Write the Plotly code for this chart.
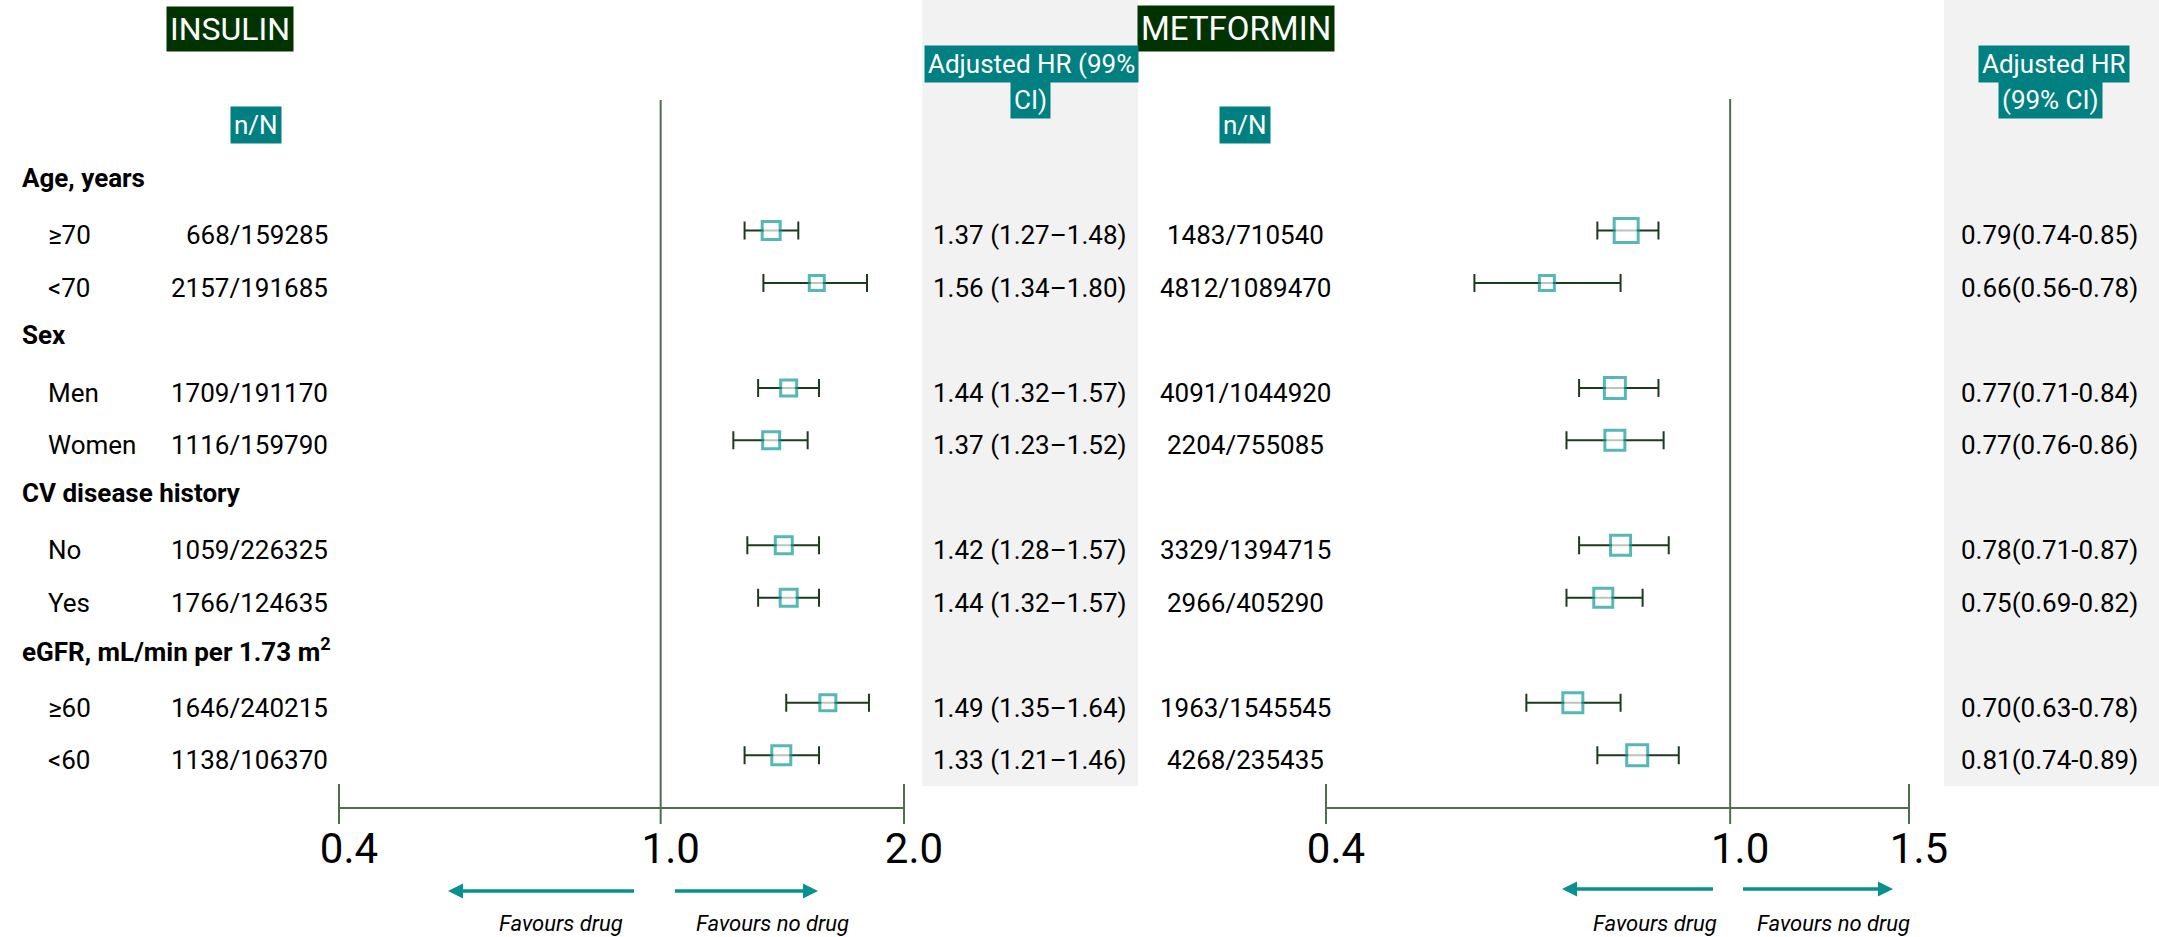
import math
import plotly.graph_objects as go

W, H = 2159, 937

# ---------------- data ----------------
row_keys = ["age", "age_ge70", "age_lt70", "sex", "sex_men", "sex_women",
            "cv", "cv_no", "cv_yes", "egfr", "egfr_ge60", "egfr_lt60"]
row_labels = ["Age, years", "≥70", "<70", "Sex", "Men", "Women",
              "CV disease history", "No", "Yes",
              "eGFR, mL/min per 1.73 m<sup>2</sup>", "≥60", "<60"]
is_header = [True, False, False, True, False, False,
             True, False, False, True, False, False]

ins_nN = ["668/159285", "2157/191685", "1709/191170", "1116/159790",
          "1059/226325", "1766/124635", "1646/240215", "1138/106370"]
ins_hr_text = ["1.37 (1.27–1.48)", "1.56 (1.34–1.80)", "1.44 (1.32–1.57)",
               "1.37 (1.23–1.52)", "1.42 (1.28–1.57)", "1.44 (1.32–1.57)",
               "1.49 (1.35–1.64)", "1.33 (1.21–1.46)"]
ins_hr = [1.37, 1.56, 1.44, 1.37, 1.42, 1.44, 1.61, 1.41]
ins_lo = [1.27, 1.34, 1.32, 1.23, 1.28, 1.32, 1.43, 1.27]
ins_hi = [1.48, 1.80, 1.57, 1.52, 1.57, 1.57, 1.81, 1.57]

met_nN = ["1483/710540", "4812/1089470", "4091/1044920", "2204/755085",
          "3329/1394715", "2966/405290", "1963/1545545", "4268/235435"]
met_hr_text = ["0.79(0.74-0.85)", "0.66(0.56-0.78)", "0.77(0.71-0.84)",
               "0.77(0.76-0.86)", "0.78(0.71-0.87)", "0.75(0.69-0.82)",
               "0.70(0.63-0.78)", "0.81(0.74-0.89)"]
met_hr = [0.79, 0.66, 0.77, 0.77, 0.78, 0.75, 0.70, 0.81]
met_lo = [0.74, 0.56, 0.71, 0.69, 0.71, 0.69, 0.63, 0.74]
met_hi = [0.85, 0.78, 0.85, 0.86, 0.87, 0.82, 0.78, 0.89]

ins_ticks = [0.4, 1.0, 2.0]
ins_ticklabels = ["0.4", "1.0", "2.0"]
met_ticks = [0.4, 1.0, 1.5]
met_ticklabels = ["0.4", "1.0", "1.5"]

# ---------------- styles ----------------
ins_size = [18, 15, 16, 17, 17, 17, 16, 19]
met_size = [24, 15, 21, 20, 20, 19, 20, 21]

FONT = "Roboto"
AX = "#4e6e4e"
ERR = "#1f3b1f"
TEAL_BOX = "#008080"
TEAL_MK = "#109a9a"
TEAL_ARROW = "#0a9090"
DARK = "#003300"
GRAY = "#f2f2f2"


def px(p):
    return p / W


def py(p):
    return 1 - p / H


sub_keys = [k for k, h in zip(row_keys, is_header) if not h]

fig = go.Figure()


def forest(hr, lo, hi, sizes, xa):
    fig.add_trace(go.Scatter(
        x=hr, y=sub_keys, xaxis=xa, yaxis="y", mode="markers",
        marker=dict(symbol="square", size=sizes, color="white",
                    line=dict(color=TEAL_MK, width=3)),
        error_x=dict(type="data", symmetric=False,
                     array=[h - v for h, v in zip(hi, hr)],
                     arrayminus=[v - l for v, l in zip(hr, lo)],
                     color=ERR, thickness=2, width=9),
        showlegend=False, hoverinfo="skip"))


forest(ins_hr, ins_lo, ins_hi, ins_size, "x")
forest(met_hr, met_lo, met_hi, met_size, "x2")

axis_y = 808          # pixel row of the HR axis line
tick_top, tick_bot = 784, 824
pad_px = 24           # extra axis room so edge ticks are not clipped

ticklab_font = dict(family=FONT, size=42, color="black")


def log_axis(ticks, labels, px0, px1):
    lo, hi = math.log10(ticks[0]), math.log10(ticks[-1])
    per_px = (hi - lo) / (px1 - px0)
    return dict(type="log", showgrid=False, zeroline=False, showline=False,
                anchor="free", position=py(axis_y), fixedrange=True,
                domain=[px(px0 - pad_px), px(px1 + pad_px)],
                range=[lo - pad_px * per_px, hi + pad_px * per_px],
                ticks="", tickvals=ticks, ticktext=labels,
                tickfont=ticklab_font, ticklabelshift=10,
                ticklabelstandoff=12, automargin=False)


shapes = []
# grey background columns
shapes.append(dict(type="rect", xref="paper", yref="paper", layer="below",
                   x0=px(922), x1=px(1138), y0=py(786), y1=1,
                   fillcolor=GRAY, line=dict(width=0)))
shapes.append(dict(type="rect", xref="paper", yref="paper", layer="below",
                   x0=px(1944), x1=1, y0=py(786), y1=1,
                   fillcolor=GRAY, line=dict(width=0)))

for xr, ticks, ref_top in (("x", ins_ticks, 100), ("x2", met_ticks, 99)):
    # axis line between the outer ticks
    shapes.append(dict(type="line", xref=xr, yref="paper",
                       x0=ticks[0], x1=ticks[-1], y0=py(axis_y), y1=py(axis_y),
                       line=dict(color=AX, width=2)))
    # crossing tick marks at the ends
    for t in (ticks[0], ticks[-1]):
        shapes.append(dict(type="line", xref=xr, yref="paper", x0=t, x1=t,
                           y0=py(tick_bot), y1=py(tick_top),
                           line=dict(color=AX, width=2)))
    # reference line at HR = 1
    shapes.append(dict(type="line", xref=xr, yref="paper", x0=1.0, x1=1.0,
                       y0=py(tick_bot), y1=py(ref_top),
                       line=dict(color=AX, width=2)))

ann = []


def text(x, y, s, size=26, anchor="center", bold=False, italic=False,
         color="black", yref="y", yshift=0, bg=None, pad=1):
    d = dict(x=x, y=y, xref="paper", yref=yref, text=s, showarrow=False,
             xanchor=anchor, yanchor="middle", yshift=yshift,
             font=dict(family=FONT, size=size, color=color,
                       weight="bold" if bold else "normal",
                       style="italic" if italic else "normal"),
             borderpad=pad)
    if bg:
        d["bgcolor"] = bg
    ann.append(d)


# row labels
for k, lab, h in zip(row_keys, row_labels, is_header):
    if h:
        text(px(20), k, lab, anchor="left", bold=True)
    else:
        text(px(46), k, lab, anchor="left", yshift=-5)

# column texts
for k, a, b, c, d in zip(sub_keys, ins_nN, ins_hr_text, met_nN, met_hr_text):
    text(px(330), k, a, anchor="right", yshift=-5)
    text(px(1030), k, b, yshift=-5)
    text(px(1245), k, c, yshift=-5)
    text(px(2049), k, d, yshift=-5)

# headers
text(px(229.5), py(29), "INSULIN", size=32, color="white", yref="paper",
     bg=DARK, pad=3)
text(px(1236), py(29), "METFORMIN", size=33, color="white", yref="paper",
     bg=DARK, pad=3)
for cx in (256, 1245):
    text(px(cx), py(124.5), "n/N", color="white", yref="paper",
         bg=TEAL_BOX, pad=3)
text(px(1031), py(63.5), "Adjusted HR (99%", color="white", yref="paper",
     bg=TEAL_BOX, pad=3)
text(px(1030), py(100), "CI)", color="white", yref="paper",
     bg=TEAL_BOX, pad=3)
text(px(2054), py(63.5), "Adjusted HR", color="white", yref="paper",
     bg=TEAL_BOX, pad=3)
text(px(2050.5), py(100), "(99% CI)", color="white", yref="paper",
     bg=TEAL_BOX, pad=3)

# favours arrows
for head, tail, yy in ((448, 636, 891), (818, 673, 891),
                       (1562, 1715, 889), (1893, 1741, 889)):
    ann.append(dict(x=px(head), y=py(yy), xref="paper", yref="paper",
                    ax=tail - head, ay=0, axref="pixel", ayref="pixel",
                    text=" ", showarrow=True, arrowhead=2, arrowsize=0.86,
                    arrowwidth=3.5, arrowcolor=TEAL_ARROW, standoff=0,
                    font=dict(size=2)))

for cx, s in ((560.5, "Favours drug"), (772, "Favours no drug"),
              (1655, "Favours drug"), (1833, "Favours no drug")):
    text(px(cx), py(923), s, size=22, italic=True, yref="paper")

fig.update_layout(
    width=W, height=H, autosize=False,
    margin=dict(l=0, r=0, t=0, b=0, pad=0, autoexpand=False),
    paper_bgcolor="white", plot_bgcolor="rgba(0,0,0,0)",
    showlegend=False, hovermode=False,
    font=dict(family=FONT),
    xaxis=log_axis(ins_ticks, ins_ticklabels, 339, 904),
    xaxis2=log_axis(met_ticks, met_ticklabels, 1326, 1909),
    yaxis=dict(type="category", categoryorder="array", categoryarray=row_keys,
               range=[(H - 178) / 52.47, -178 / 52.47], domain=[0, 1],
               visible=False, fixedrange=True, automargin=False),
    shapes=shapes, annotations=ann,
)

fig.write_html(
    "out.html",
    config={"responsive": False, "displayModeBar": False},
    post_script=("document.documentElement.style.margin='0';"
                 "document.body.style.margin='0';"
                 "document.body.style.overflow='hidden';"),
)
